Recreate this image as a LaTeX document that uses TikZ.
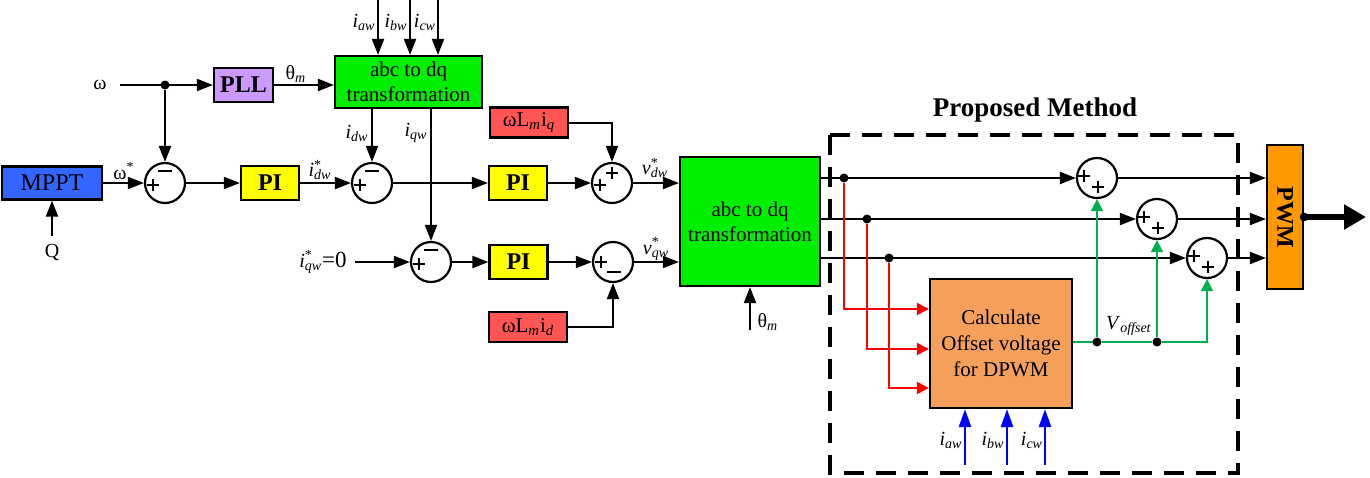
\documentclass[tikz,border=0pt]{standalone}
\usepackage{fontspec}
\setmainfont{Liberation Serif}
\usetikzlibrary{arrows.meta}
\definecolor{mpptblue}{RGB}{51,102,255}
\definecolor{pllc}{RGB}{204,153,255}
\definecolor{abcg}{RGB}{0,238,0}
\definecolor{piy}{RGB}{255,255,0}
\definecolor{redbox}{RGB}{255,85,85}
\definecolor{calcc}{RGB}{244,160,90}
\definecolor{pwmc}{RGB}{255,153,0}
\definecolor{lgreen}{RGB}{0,176,80}
\newcommand{\Isub}[1]{\textit{i}\textsubscript{\textit{#1}}}
\newcommand{\Istar}[2]{\textit{#1}\rlap{\textsuperscript{*}}\textsubscript{\textit{#2}}}
\tikzset{
  pplus/.pic={\draw[line width=1pt] (-6,0)--(6,0) (0,-6)--(0,6);},
  pminus/.pic={\draw[line width=1pt] (-7,0)--(7,0);}
}
\begin{document}
\begin{tikzpicture}[x=0.5pt,y=-0.5pt,
  box/.style={draw,line width=1.1pt,inner sep=0pt,align=center,font=\fontsize{10.5}{12.5}\selectfont},
  pibox/.style={box,fill=piy,minimum width=29pt,minimum height=17pt,font=\bfseries\fontsize{12}{14}\selectfont},
  lbox/.style={box,fill=redbox,minimum width=39pt,minimum height=15pt,font=\fontsize{10.5}{12}\selectfont},
  sumc/.style={draw,circle,line width=1.1pt,minimum size=20pt,inner sep=0pt},
  arr/.style={line width=1pt,-{Triangle[length=8pt,width=6pt]}},
  ln/.style={line width=1pt},
  lbl/.style={font=\fontsize{10}{12}\selectfont,inner sep=1pt},
  dot/.style={circle,fill,inner sep=0pt,minimum size=4.5pt},
  rarr/.style={line width=1pt,red,-{Triangle[length=6pt,width=6pt]}},
  barr/.style={line width=1.3pt,blue,-{Triangle[length=9pt,width=6pt]}},
  garr/.style={line width=1pt,lgreen,-{Triangle[length=6pt,width=6pt]}},
]
\useasboundingbox (0,0) rectangle (1370,477);

% blocks
\node[box,fill=mpptblue,minimum width=50pt,minimum height=16.5pt,font=\fontsize{12}{14}\selectfont] (mppt) at (52,183) {MPPT};
\node[box,fill=pllc,minimum width=29.5pt,minimum height=17pt,font=\bfseries\fontsize{12}{14}\selectfont] (pll) at (243.5,85) {PLL};
\node[box,fill=abcg,minimum width=73.5pt,minimum height=26pt] (abc1) at (408.5,82) {abc to dq\\transformation};
\node[pibox] (pi1) at (270,183) {PI};
\node[pibox] (pi2) at (518,183) {PI};
\node[pibox] (pi3) at (518.5,262) {PI};
\node[lbox] (lq) at (529,122.5) {ωL\textsubscript{\textit{m}}i\textsubscript{\textit{q}}};
\node[lbox] (ld) at (528,327) {ωL\textsubscript{\textit{m}}i\textsubscript{\textit{d}}};
\node[box,fill=abcg,minimum width=70pt,minimum height=64.5pt] (abc2) at (750,221.5) {abc to dq\\transformation};
\node[box,fill=calcc,minimum width=71pt,minimum height=64.5pt,font=\fontsize{10.5}{13}\selectfont] (calc) at (1001,343.5) {Calculate\\Offset voltage\\for DPWM};
\node[box,fill=pwmc,minimum width=18pt,minimum height=72pt] (pwm) at (1285,217) {};
\node[rotate=-90,font=\bfseries\fontsize{12}{14}\selectfont] (pwmt) at (pwm.center) {PWM};

% sum junctions
\node[sumc] (s1) at (165,183) {};
\node[sumc] (s2) at (372,183) {};
\node[sumc] (s3) at (612,183) {};
\node[sumc] (s4) at (431,262) {};
\node[sumc] (s5) at (613,262) {};
\node[sumc] (s6) at (1097,178) {};
\node[sumc] (s7) at (1157,219) {};
\node[sumc] (s8) at (1207,258) {};

% signs
\path (s1) ++(-12,2) pic {pplus} (s1) ++(0,-12) pic {pminus};
\path (s2) ++(-12,2) pic {pplus} (s2) ++(0,-12) pic {pminus};
\path (s3) ++(-12,2) pic {pplus} (s3) ++(0,-10) pic {pplus};
\path (s4) ++(-12,2) pic {pplus} (s4) ++(0,-12) pic {pminus};
\path (s5) ++(-12,0) pic {pplus} (s5) ++(1,10) pic {pminus};
\foreach \s in {s6,s7,s8}{\path (\s) ++(-13,-2) pic {pplus} (\s) ++(1,9) pic {pplus};}

% proposed method frame
\draw[line width=2pt,dash pattern=on 10pt off 6pt] (830,135) rectangle (1238,473);
\node[font=\bfseries\fontsize{13.5}{16}\selectfont] (pmt) at (1035,110) {Proposed Method};

% coordinates
\coordinate (w0) at (120,85);
\coordinate (jw) at (165,85);
\coordinate (q0) at (52,236);
\coordinate (t1) at (378,0);
\coordinate (t2) at (410,0);
\coordinate (t3) at (438,0);
\coordinate (iq0) at (355,262);
\coordinate (th0) at (750,330);
\coordinate (d1) at (844,178);
\coordinate (d2) at (867,219);
\coordinate (d3) at (889,258);
\coordinate (r1) at (900,309);
\coordinate (r2) at (900,349);
\coordinate (r3) at (900,388);
\coordinate (g1) at (1097,342);
\coordinate (g2) at (1157,342);
\coordinate (b1) at (965,465);
\coordinate (b2) at (1007,465);
\coordinate (b3) at (1045,465);
\coordinate (pout) at (1366,217);

% left connections
\draw[arr] (w0) -- (pll);
\node[dot] (dw) at (jw) {};
\draw[arr] (dw) -- (s1);
\draw[arr] (mppt) -- (s1);
\draw[arr] (q0) -- (mppt);
\draw[arr] (s1) -- (pi1);
\draw[arr] (pi1) -- (s2);
\draw[arr] (pll) -- (pll -| abc1.west);
\draw[arr] (t1) -- (t1 |- abc1.north);
\draw[arr] (t2) -- (t2 |- abc1.north);
\draw[arr] (t3) -- (t3 |- abc1.north);
\draw[arr] (abc1.south -| s2) -- (s2);
\draw[arr] (abc1.south -| s4) -- (s4);
\draw[arr] (s2) -- (pi2);
\draw[arr] (pi2) -- (s3);
\draw[arr] (lq.east) -| (s3);
\draw[arr] (s3) -- (s3 -| abc2.west);
\draw[arr] (iq0) -- (s4);
\draw[arr] (s4) -- (pi3);
\draw[arr] (pi3) -- (s5);
\draw[arr] (ld.east) -| (s5);
\draw[arr] (s5) -- (s5 -| abc2.west);
\draw[arr] (th0) -- (abc2.south -| th0);

% right connections
\draw[arr] (abc2.east |- s6) -- (s6);
\draw[arr] (abc2.east |- s7) -- (s7);
\draw[arr] (abc2.east |- s8) -- (s8);
\draw[arr] (s6) -- (s6 -| pwm.west);
\draw[arr] (s7) -- (s7 -| pwm.west);
\draw[arr] (s8) -- (s8 -| pwm.west);
\node[dot] (dd1) at (d1) {};
\node[dot] (dd2) at (d2) {};
\node[dot] (dd3) at (d3) {};
\draw[rarr] (dd1) |- (calc.west |- r1);
\draw[rarr] (dd2) |- (calc.west |- r2);
\draw[rarr] (dd3) |- (calc.west |- r3);
\draw[ln,lgreen] (calc.east |- g1) -- (g1);
\node[dot] (gd1) at (g1) {};
\node[dot] (gd2) at (g2) {};
\draw[garr] (gd1) -- (s6);
\draw[garr] (gd2) -- (s7);
\draw[garr] (gd1) -- (gd2) -| (s8);
\draw[barr] (b1) -- (b1 |- calc.south);
\draw[barr] (b2) -- (b2 |- calc.south);
\draw[barr] (b3) -- (b3 |- calc.south);
\draw[line width=3pt,-{Triangle[length=11pt,width=12pt]}] (pwm.east) -- (pout);
\fill (pwm.east) circle (2.2pt);

% labels
\node[lbl] at (100,85) {ω};
\node[lbl] at (52,252) {Q};
\node[lbl] at (124,171) {ω\textsuperscript{*}};
\node[lbl] at (296,74) {θ\textsubscript{\textit{m}}};
\node[lbl] at (364,22) {\Isub{aw}};
\node[lbl] at (396,22) {\Isub{bw}};
\node[lbl] at (425,22) {\Isub{cw}};
\node[lbl] at (357,133) {\Isub{dw}};
\node[lbl] at (416,133) {\Isub{qw}};
\node[lbl] at (320,170) {\Istar{i}{dw}};
\node[lbl] at (323,262) {\Istar{i}{qw}{\fontsize{11.5}{12}\selectfont =0}};
\node[lbl] at (655,168) {\Istar{v}{dw}};
\node[lbl] at (656,249) {\Istar{v}{qw}};
\node[lbl] at (768,322) {θ\textsubscript{\textit{m}}};
\node[lbl] at (1129,326) {\textit{V}\textsubscript{\textit{offset}}};
\node[lbl] at (951,440) {\Isub{aw}};
\node[lbl] at (993,440) {\Isub{bw}};
\node[lbl] at (1032,440) {\Isub{cw}};
\end{tikzpicture}
\end{document}
